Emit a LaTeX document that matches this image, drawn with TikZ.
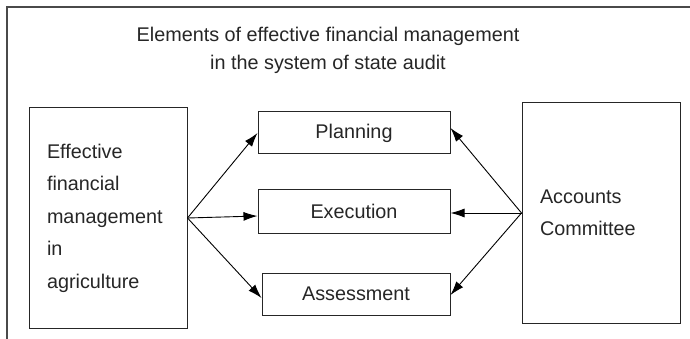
\documentclass[tikz,border=0pt]{standalone}
\usepackage{fontspec}
\setmainfont{Liberation Sans}
\usetikzlibrary{arrows.meta}
\definecolor{ink}{HTML}{262626}
\definecolor{frame}{HTML}{4A4A4A}
\tikzset{
  txt/.style={font={\fontsize{19.8}{32.5}\selectfont}, text=ink},
  box/.style={draw=ink, line width=1pt, inner sep=0pt, txt},
  sidebox/.style={box, align=left, text width=122pt, inner xsep=18pt, minimum height=220pt},
  stepbox/.style={box, align=center, minimum height=42pt},
  conn/.style={draw=black, line width=0.9pt, -{Latex[length=14pt,width=9pt]}}
}
\begin{document}
\begin{tikzpicture}[x=1pt,y=-1pt]
\useasboundingbox (0,0) rectangle (690,339);
\draw[frame, line width=2pt] (6.5,339) -- (6.5,7.5) -- (690,7.5);
\node[txt, font={\fontsize{19.8}{28}\selectfont}, align=center, anchor=base] (title) at (328,70)
  {Elements of effective financial management\\in the system of state audit};
\node[sidebox] (left) at (108,218)
  {Effective\\financial\\management\\in\\agriculture};
\node[sidebox] (right) at (601,213) {Accounts\\Committee};
\node[stepbox, minimum width=192pt] (plan) at (354,133) {Planning};
\node[stepbox, minimum width=192pt, minimum height=44pt] (exec) at (354,211) {Execution};
\node[stepbox, minimum width=188pt] (assess) at (356,294) {Assessment};
\draw[conn] (left.east) -- (plan.west);
\draw[conn] (left.east) -- ([yshift=-5pt]exec.west);
\draw[conn] (left.east) -- ([yshift=-4pt]assess.west);
\draw[conn] (right.west) -- ([yshift=5pt]plan.east);
\draw[conn] (right.west) -- ([yshift=-2pt]exec.east);
\draw[conn] (right.west) -- ([yshift=-1pt]assess.east);
\end{tikzpicture}
\end{document}
